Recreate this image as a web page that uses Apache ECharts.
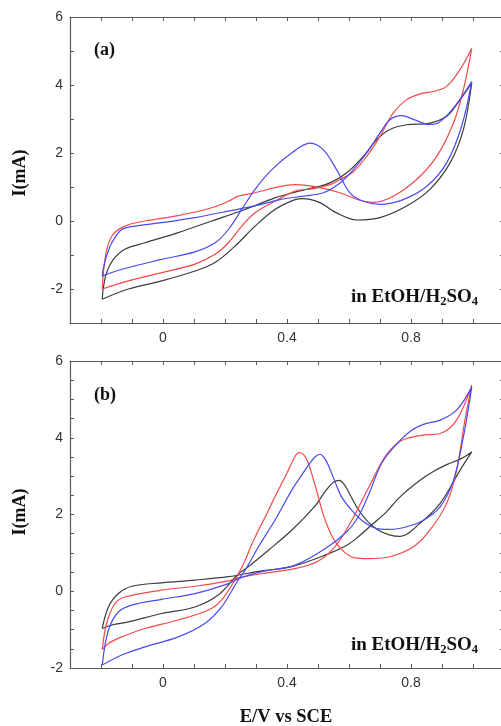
<!DOCTYPE html>
<html>
<head>
<meta charset="utf-8">
<script src="https://cdn.jsdelivr.net/npm/echarts@6/dist/echarts.min.js"></script>
<style>html,body{margin:0;padding:0;background:#fff;overflow:hidden;}#c{width:501px;height:726px;}</style>
</head>
<body>
<div id="c"></div>
<script>
// ---- Data: potential E (V vs SCE), current I (mA), ordered around each CV loop ----
var xTickLabels = ['0', '0.4', '0.8'];
var yTickLabels = ['-2', '0', '2', '4', '6'];
var panelLabels = ['(a)', '(b)'];

var aBlack = [[-0.196,-2.30],[-0.112,-2.00],[-0.004,-1.76],[0.103,-1.47],[0.168,-1.22],[0.232,-0.74],[0.297,-0.15],[0.361,0.34],[0.426,0.63],[0.453,0.66],[0.506,0.54],[0.56,0.24],[0.625,0.03],[0.70,0.10],[0.786,0.44],[0.861,0.93],[0.926,1.71],[0.969,2.69],[0.996,4.06],
  [0.947,3.42],[0.915,3.08],[0.861,2.88],[0.786,2.83],[0.732,2.69],[0.689,2.39],[0.646,1.90],[0.593,1.42],[0.539,1.12],[0.485,0.98],[0.426,0.85],[0.361,0.68],[0.265,0.34],[0.157,0.0],[0.049,-0.34],[-0.058,-0.64],[-0.123,-0.83],[-0.16,-1.13],[-0.182,-1.52],[-0.193,-2.0],[-0.196,-2.30]];
var aBlue = [[-0.196,-1.62],[-0.133,-1.42],[-0.004,-1.13],[0.103,-0.91],[0.168,-0.64],[0.211,-0.25],[0.254,0.34],[0.297,0.93],[0.351,1.51],[0.415,2.00],[0.474,2.29],[0.517,2.10],[0.56,1.51],[0.603,0.83],[0.646,0.58],[0.70,0.49],[0.775,0.63],[0.851,1.02],[0.915,1.71],[0.963,2.78],[0.996,4.10],
  [0.937,3.32],[0.89,2.90],[0.86,2.84],[0.81,2.98],[0.77,3.10],[0.732,2.98],[0.70,2.59],[0.657,2.00],[0.614,1.51],[0.571,1.12],[0.517,0.83],[0.453,0.73],[0.377,0.63],[0.318,0.49],[0.211,0.29],[0.103,0.10],[-0.004,-0.05],[-0.09,-0.15],[-0.133,-0.25],[-0.165,-0.64],[-0.182,-1.03],[-0.193,-1.42],[-0.196,-1.62]];
var aRed = [[-0.196,-2.0],[-0.112,-1.76],[-0.004,-1.52],[0.103,-1.27],[0.168,-0.98],[0.211,-0.64],[0.254,-0.15],[0.297,0.24],[0.361,0.58],[0.426,0.88],[0.485,0.95],[0.539,1.07],[0.571,1.22],[0.614,1.45],[0.657,1.90],[0.70,2.49],[0.743,3.18],[0.786,3.57],[0.829,3.74],[0.872,3.81],[0.915,3.96],[0.958,4.45],[0.996,5.08],
  [0.969,3.86],[0.937,2.88],[0.883,1.90],[0.818,1.22],[0.743,0.73],[0.678,0.55],[0.635,0.61],[0.571,0.83],[0.485,1.02],[0.426,1.07],[0.361,0.98],[0.297,0.83],[0.243,0.73],[0.211,0.58],[0.157,0.39],[0.049,0.16],[-0.058,0.0],[-0.123,-0.15],[-0.165,-0.44],[-0.185,-1.0],[-0.196,-2.0]];

var bBlack = [[-0.196,-0.97],[-0.176,-0.41],[-0.144,-0.06],[-0.101,0.13],[-0.004,0.22],[0.103,0.29],[0.211,0.38],[0.318,0.53],[0.415,0.64],[0.523,0.94],[0.593,1.20],[0.63,1.42],[0.672,1.72],[0.716,2.03],[0.765,2.46],[0.829,2.89],[0.872,3.12],[0.915,3.30],[0.96,3.45],[0.996,3.63],
  [0.958,3.15],[0.894,2.29],[0.829,1.77],[0.765,1.43],[0.73,1.47],[0.695,1.59],[0.662,1.80],[0.63,2.13],[0.603,2.52],[0.585,2.78],[0.568,2.89],[0.55,2.84],[0.525,2.62],[0.49,2.22],[0.415,1.59],[0.34,1.07],[0.275,0.64],[0.243,0.45],[0.178,-0.10],[0.103,-0.41],[-0.004,-0.58],[-0.112,-0.80],[-0.165,-0.88],[-0.196,-0.97]];
var bRed = [[-0.196,-1.52],[-0.182,-0.84],[-0.155,-0.32],[-0.123,-0.15],[-0.004,0.03],[0.103,0.13],[0.211,0.27],[0.243,0.35],[0.318,0.46],[0.426,0.59],[0.50,0.78],[0.555,1.16],[0.609,1.85],[0.66,2.65],[0.716,3.50],[0.754,3.85],[0.786,3.98],[0.84,4.07],[0.894,4.11],[0.947,4.46],[0.996,5.37],
  [0.974,4.46],[0.947,3.15],[0.915,2.29],[0.861,1.59],[0.808,1.16],[0.732,0.90],[0.662,0.85],[0.619,0.87],[0.585,1.02],[0.555,1.30],[0.533,1.65],[0.515,2.05],[0.501,2.46],[0.485,2.92],[0.469,3.33],[0.455,3.55],[0.439,3.61],[0.425,3.50],[0.40,3.08],[0.361,2.46],[0.335,2.02],[0.308,1.59],[0.285,1.20],[0.265,0.81],[0.238,0.38],[0.189,-0.23],[0.146,-0.49],[0.049,-0.75],[-0.058,-0.97],[-0.133,-1.19],[-0.176,-1.36],[-0.196,-1.52]];
var bBlue = [[-0.196,-1.92],[-0.176,-1.01],[-0.144,-0.54],[-0.101,-0.36],[-0.004,-0.21],[0.103,-0.06],[0.211,0.20],[0.243,0.33],[0.318,0.51],[0.426,0.68],[0.523,1.11],[0.593,1.55],[0.63,1.94],[0.665,2.55],[0.705,3.33],[0.75,3.80],[0.80,4.18],[0.84,4.35],[0.894,4.46],[0.947,4.72],[0.996,5.32],
  [0.969,4.02],[0.937,2.89],[0.894,2.20],[0.84,1.85],[0.786,1.68],[0.732,1.61],[0.70,1.62],[0.673,1.68],[0.641,1.85],[0.609,2.11],[0.576,2.46],[0.555,2.85],[0.535,3.25],[0.52,3.48],[0.506,3.57],[0.49,3.50],[0.475,3.35],[0.45,3.06],[0.415,2.63],[0.361,1.85],[0.308,1.16],[0.265,0.55],[0.243,0.30],[0.189,-0.41],[0.135,-0.84],[0.049,-1.19],[-0.058,-1.45],[-0.133,-1.66],[-0.196,-1.92]];

// ---- Chart ----
var chart = echarts.init(document.getElementById('c'), null, {renderer: 'canvas'});
var AX = '#5a5a5a';
var SERIF = '"Liberation Serif","DejaVu Serif",serif';
var SANS = '"Liberation Sans",Arial,sans-serif';

function xLabel(v) {
  var r = Math.round(v * 10);
  var map = {0: xTickLabels[0], 4: xTickLabels[1], 8: xTickLabels[2]};
  return map.hasOwnProperty(r) ? map[r] : '';
}
function yLabel(v) {
  var r = Math.round(v * 100) / 100;
  var s = String(r);
  return yTickLabels.indexOf(s) >= 0 ? s : '';
}
function xAxisDef(grid, pos) {
  return {
    type: 'value', gridIndex: grid, position: pos, min: -0.3, max: 1.1, interval: 0.1,
    axisLine: {show: true, onZero: false, lineStyle: {color: AX, width: 1.2}},
    axisTick: {show: true, inside: true, length: 4, lineStyle: {color: AX}},
    axisLabel: {show: pos === 'bottom', formatter: xLabel, color: '#333', fontFamily: SANS, fontSize: 14, margin: 8},
    splitLine: {show: false}
  };
}
function yAxisDef(grid, pos, mn, itv) {
  return {
    type: 'value', gridIndex: grid, position: pos, min: mn, max: 6, interval: itv,
    axisLine: {show: true, onZero: false, lineStyle: {color: AX, width: 1.2}},
    axisTick: {show: true, inside: true, length: 4, lineStyle: {color: AX}},
    axisLabel: {show: pos === 'left', formatter: yLabel, color: '#333', fontFamily: SANS, fontSize: 14, margin: 7},
    splitLine: {show: false}
  };
}
function line(data, color, xi, yi) {
  return {type: 'line', data: data, xAxisIndex: xi, yAxisIndex: yi, smooth: 0.35, showSymbol: false,
    symbol: 'none', lineStyle: {color: color, width: 1.2}, animation: false, silent: true, z: 3};
}
var RED = '#f24a4a', BLUE = '#4a4af2', BLACK = '#3c3c3c';
var subRich = {
  n: {fontFamily: SERIF, fontWeight: 'bold', fontSize: 19, lineHeight: 19, fill: '#111'},
  s: {fontFamily: SERIF, fontWeight: 'bold', fontSize: 12.5, lineHeight: 10, padding: [9, 0, 0, 0], fill: '#111'}
};
function txt(t, x, y, opts) {
  var st = {text: t, x: 0, y: 0, fill: '#111', font: 'bold ' + (opts.size || 18) + 'px ' + SERIF,
    align: opts.align || 'left', verticalAlign: opts.va || 'top'};
  if (opts.rich) st.rich = opts.rich;
  return {type: 'text', x: x, y: y, rotation: opts.rot || 0, style: st, z: 10};
}

chart.setOption({
  animation: false,
  backgroundColor: '#ffffff',
  grid: [
    {left: 70, top: 17, width: 434, height: 306, outerBoundsMode: 'none', containLabel: false},
    {left: 70, top: 361, width: 434, height: 307, outerBoundsMode: 'none', containLabel: false}
  ],
  xAxis: [xAxisDef(0, 'bottom'), xAxisDef(0, 'top'), xAxisDef(1, 'bottom'), xAxisDef(1, 'top')],
  yAxis: [yAxisDef(0, 'left', -3, 1), yAxisDef(0, 'right', -3, 1), yAxisDef(1, 'left', -2, 0.5), yAxisDef(1, 'right', -2, 0.5)],
  series: [
    line(aBlack, BLACK, 0, 0), line(aRed, RED, 0, 0), line(aBlue, BLUE, 0, 0),
    line(bBlack, BLACK, 2, 2), line(bRed, RED, 2, 2), line(bBlue, BLUE, 2, 2)
  ],
  graphic: [
    txt(panelLabels[0], 94, 41, {}),
    txt(panelLabels[1], 94, 386, {}),
    txt('I(mA)', 20, 173, {rot: Math.PI / 2, align: 'center', va: 'middle'}),
    txt('I(mA)', 20, 512, {rot: Math.PI / 2, align: 'center', va: 'middle'}),
    txt('E/V vs SCE', 286, 708, {align: 'center', size: 18.5}),
    txt('{n|in EtOH/H}{s|2}{n|SO}{s|4}', 478, 288, {align: 'right', rich: subRich}),
    txt('{n|in EtOH/H}{s|2}{n|SO}{s|4}', 478, 636, {align: 'right', rich: subRich})
  ]
});
</script>
</body>
</html>
